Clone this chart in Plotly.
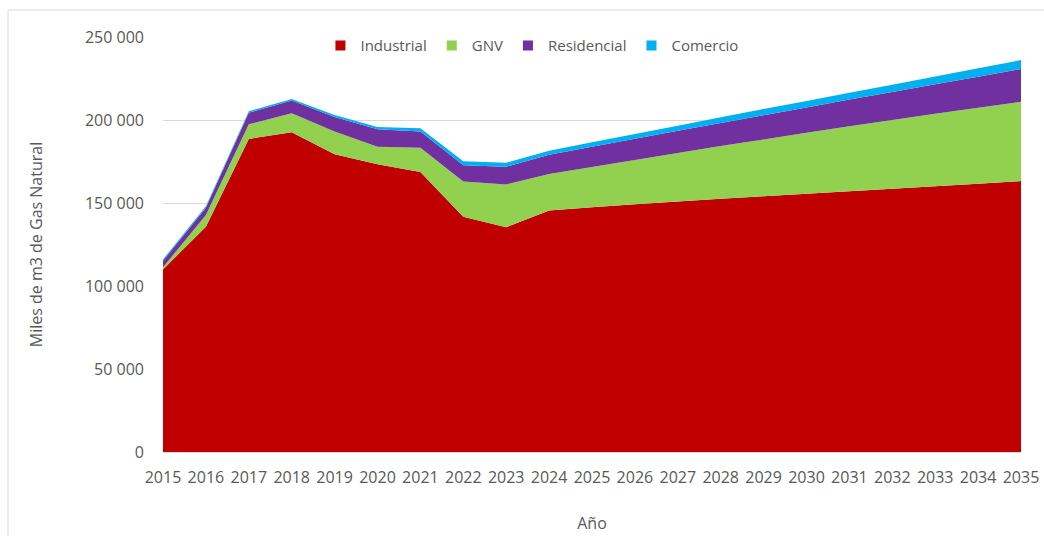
import plotly.graph_objects as go

# Consumo de gas natural por sector (miles de m3), histórico y proyección
years = list(range(2015, 2036))

industrial = [110000, 135700, 188600, 192600, 179300, 173300, 168700, 141700, 135400, 145500,
              147400, 149200, 150900, 152500, 154100, 155600, 157100, 158600, 160100, 161600, 163200]
gnv = [1300, 7000, 8800, 11400, 13700, 10600, 14600, 21300, 25800, 22000,
       24300, 26700, 29200, 31800, 34200, 36700, 39100, 41400, 43600, 45800, 47800]
residencial = [3900, 4400, 7000, 7700, 8800, 10500, 9700, 9700, 10700, 11500,
               12200, 12800, 13400, 13900, 14600, 15300, 16100, 16900, 17800, 18700, 19700]
comercio = [800, 1000, 800, 1000, 1200, 1400, 2000, 2400, 2400, 2500,
            2700, 2900, 3100, 3400, 3700, 3900, 4100, 4400, 4700, 5000, 5400]

series = [
    ("Industrial", industrial, "#C00000"),
    ("GNV", gnv, "#92D050"),
    ("Residencial", residencial, "#7030A0"),
    ("Comercio", comercio, "#00B0F0"),
]

y_ticks = [0, 50000, 100000, 150000, 200000, 250000]

FONT = "Open Sans"
TXT = "#595959"
GRID = "#D9D9D9"

fig = go.Figure()

# stacked areas
for name, vals, color in series:
    fig.add_trace(go.Scatter(
        x=years, y=vals, name=name, stackgroup="one", mode="none",
        fillcolor=color, line=dict(width=0), showlegend=False, legendgroup=name,
    ))

# square legend keys
for name, vals, color in series:
    fig.add_trace(go.Scatter(
        x=[None], y=[None], name=name, mode="markers", legendgroup=name,
        marker=dict(symbol="square", size=10, color=color),
    ))

fig.update_layout(
    width=1044, height=536,
    margin=dict(l=163, r=23, t=37, b=84, autoexpand=False),
    paper_bgcolor="white", plot_bgcolor="white",
    font=dict(family=FONT, size=16, color=TXT),
    separators=", ",
    showlegend=True,
    legend=dict(
        orientation="h", x=0.430, xanchor="center", y=0.979, yanchor="middle",
        bgcolor="rgba(0,0,0,0)", font=dict(size=15, color=TXT),
        traceorder="normal", itemwidth=30,
    ),
    xaxis=dict(
        range=[2015, 2035], tickmode="array", tickvals=years,
        ticktext=[str(y) for y in years], showgrid=False, zeroline=False,
        showline=True, linecolor=GRID, linewidth=1, ticks="",
        ticklabelstandoff=11, automargin=False,
        title=dict(text="Año", standoff=30, font=dict(size=16, color=TXT)),
    ),
    yaxis=dict(
        range=[0, 250000], tickmode="array", tickvals=y_ticks, tickformat=",d",
        showgrid=True, gridcolor=GRID, gridwidth=1, zeroline=False,
        showline=False, ticks="", ticklabelstandoff=18, automargin=False,
        title=dict(text="Miles de m3 de Gas Natural", standoff=38, font=dict(size=16, color=TXT)),
    ),
)

# chart frame
fig.add_shape(type="rect", xref="paper", yref="paper",
              x0=(8 - 163) / 858, x1=(1060 - 163) / 858,
              y0=(452 - 560) / 415, y1=(452 - 10) / 415,
              line=dict(color=GRID, width=1), fillcolor="rgba(0,0,0,0)", layer="below")

fig.write_html("out.html")
